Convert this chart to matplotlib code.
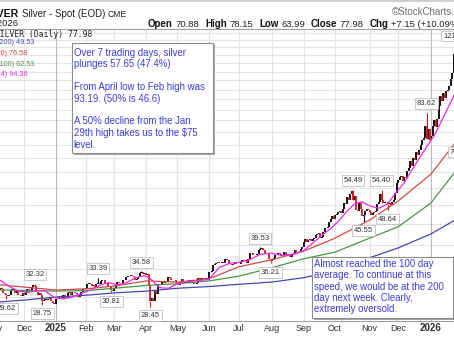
import numpy as np
import matplotlib.pyplot as plt
from matplotlib.patches import Rectangle

plt.rcParams['font.family'] = 'Liberation Sans'

# daily closes, one list per month (Nov 2024 .. Jan 2026)
nov24 = [32.4, 32.4, 32.5, 31.2, 31.6, 31.3, 30.6, 30.5, 30.3, 30.2, 30.3, 31.2, 31.3, 31.2, 30.7, 31.2, 30.4, 30.3, 30.1, 30.6]
dec24 = [30.4, 30.9, 31.3, 31.2, 31.0, 31.8, 32.1, 31.9, 30.9, 30.4, 30.6, 30.4, 29.3, 29.5, 29.6, 29.5, 29.6, 30.0, 29.4, 29.1, 28.9]
jan25 = [29.6, 29.7, 30.0, 30.1, 29.9, 30.3, 29.6, 29.8, 30.6, 30.9, 30.3, 30.8, 30.9, 30.6, 30.5, 30.0, 30.4, 30.9, 31.4, 31.3]
feb25 = [31.6, 32.2, 32.5, 32.2, 31.9, 32.0, 31.8, 32.2, 32.5, 32.2, 32.8, 33.0, 32.9, 32.4, 32.5, 31.8, 31.9, 31.2, 31.1]
mar25 = [31.6, 32.1, 32.6, 32.5, 32.4, 32.3, 33.0, 32.9, 33.6, 33.8, 33.7, 34.0, 33.7, 33.5, 33.0, 33.1, 33.6, 34.2, 34.4, 34.1, 34.2]
apr25 = [34.0, 34.1, 32.0, 29.4, 29.9, 29.3, 31.0, 30.5, 32.0, 32.3, 32.2, 32.7, 32.5, 32.6, 32.7, 33.6, 33.4, 33.0, 32.9, 33.0, 32.6]
may25 = [32.3, 32.0, 32.6, 33.1, 32.6, 32.5, 32.7, 32.5, 33.0, 32.6, 32.7, 32.3, 32.2, 32.5, 33.3, 33.0, 33.4, 33.2, 33.1, 33.3, 33.0]
jun25 = [34.5, 34.4, 34.6, 35.8, 36.0, 36.2, 36.5, 36.2, 36.3, 36.4, 36.3, 37.0, 36.9, 36.0, 36.1, 35.9, 36.0, 36.5, 36.0, 36.1]
jul25 = [36.1, 36.5, 36.8, 36.7, 36.6, 36.3, 37.1, 38.4, 38.3, 37.8, 37.9, 37.8, 38.2, 39.0, 39.2, 39.3, 38.9, 38.2, 38.1, 38.0, 37.1, 36.7]
aug25 = [37.0, 37.3, 37.8, 37.9, 38.3, 38.2, 37.7, 37.9, 38.5, 37.9, 38.0, 38.1, 37.4, 37.9, 38.1, 38.9, 38.6, 38.5, 38.6, 39.1, 39.7]
sep25 = [40.8, 41.3, 40.8, 41.2, 41.3, 41.0, 41.3, 41.6, 42.3, 42.6, 42.7, 41.7, 41.9, 43.1, 43.9, 44.0, 44.2, 45.4, 46.4, 47.0, 46.4]
oct25 = [47.2, 47.6, 48.0, 48.5, 47.9, 49.0, 50.6, 50.2, 52.3, 51.3, 53.1, 54.0, 51.4, 52.6, 48.6, 48.4, 50.6, 48.8, 47.0, 47.4, 48.5, 48.9, 48.7]
nov25 = [48.2, 47.3, 47.9, 48.2, 48.4, 50.4, 51.0, 53.3, 51.3, 50.6, 50.8, 50.9, 50.4, 50.6, 49.9, 51.0, 51.3, 53.4, 56.4]
dec25 = [57.5, 58.5, 58.8, 57.2, 58.4, 58.2, 60.5, 61.6, 64.0, 62.2, 64.8, 64.3, 67.0, 66.2, 68.0, 70.0, 71.8, 72.5, 77.5, 72.2, 76.3, 71.6]
jan26 = [73.5, 77.5, 80.0, 77.0, 80.5, 86.5, 91.5, 89.0, 93.0, 90.5, 94.0, 95.0, 97.0, 100.5, 104.0, 116.0, 114.0, 112.0, 115.0, 80.0]

months = [nov24, dec24, jan25, feb25, mar25, apr25, may25, jun25, jul25, aug25, sep25, oct25, nov25, dec25, jan26]
month_labels = ['Nov', 'Dec', '2025', 'Feb', 'Mar', 'Apr', 'May', 'Jun', 'Jul', 'Aug', 'Sep', 'Oct', 'Nov', 'Dec', '2026', 'Feb']

# labelled highs / lows (trading day index, price)
hi_days = [27, 69, 98, 177, 239, 258, 288, 307]
hi_vals = [32.32, 33.39, 34.58, 39.53, 54.49, 54.40, 83.62, 121.64]
lo_days = [8, 32, 78, 104, 184, 246, 262, 310]
lo_vals = [29.62, 28.75, 30.81, 28.45, 36.21, 45.55, 48.64, 70.60]

# moving averages
ma_days = [4, 20, 41, 61, 80, 101, 122, 143, 163, 185, 206, 227, 250, 269, 291, 307]
ma200 = [29.2, 29.5, 30.0, 30.3, 30.7, 31.0, 31.5, 31.8, 32.2, 32.6, 33.4, 34.7, 37.3, 39.4, 42.6, 46.0]
ma100 = [31.2, 31.1, 31.0, 31.1, 31.5, 32.0, 32.3, 32.8, 33.7, 35.3, 37.1, 38.5, 41.6, 44.3, 50.6, 60.1]
ma50 = [32.1, 31.7, 31.2, 31.4, 31.9, 32.8, 32.6, 33.2, 35.5, 36.9, 38.7, 41.6, 46.0, 51.1, 59.4, 70.6]
ma14_days = [0, 4, 10, 16, 22, 28, 34, 40, 46, 52, 58, 64, 70, 76, 82, 88, 94, 100, 104, 110, 116, 122, 130, 138,
             143, 150, 157, 163, 170, 177, 184, 192, 199, 206, 215, 225, 230, 235, 240, 245, 250, 256, 262, 268,
             273, 281, 288, 294, 300, 307]
ma14 = [33.3, 32.9, 31.8, 31.0, 30.8, 31.1, 31.0, 29.9, 29.7, 30.0, 30.6, 31.2, 32.0, 32.5, 32.1, 32.5, 33.4, 33.8,
        33.2, 31.6, 31.5, 32.3, 32.7, 32.9, 33.1, 35.4, 36.2, 36.4, 36.9, 38.0, 38.3, 37.8, 38.0, 38.8, 41.3, 44.2,
        46.0, 48.3, 50.3, 50.9, 49.8, 49.1, 50.3, 53.8, 56.5, 63.0, 69.0, 74.5, 82.5, 93.0]

legend_txt = ['MA(200) 49.53', 'MA(50) 76.58', 'MA(100) 62.53', 'MA(14) 94.36']
quote = [('Open', '70.88'), ('High', '78.15'), ('Low', '63.99'), ('Close', '77.98'), ('Chg', '+7.15 (+10.09%)')]

note1 = ['Over 7 trading days, silver', 'plunges 57.65 (47.4%)', '', 'From April low to Feb high was',
         '93.19. (50% is 46.6)', '', 'A 50% decline from the Jan', '29th high takes us to the $75', 'level.']
note2 = ['Almost reached the 100 day', 'average. To continue at this', 'speed, we would be at the 200',
         'day next week. Clearly,', 'extremely oversold.']

closes = np.concatenate(months)
days = np.arange(len(closes))
month_starts = np.cumsum([0] + [len(m) for m in months])

c_blue, c_red, c_green, c_pink = '#4646b4', '#d24a4a', '#4a9646', '#ea2aea'
c_note = '#3c3cdc'
c_up, c_dn = 'black', '#d01818'

W, H = 454, 341
fig = plt.figure(figsize=(W / 100, H / 100), dpi=100)
ax = fig.add_axes([0, 1 - 321 / H, 1, (321 - 29) / H])
ax.set_yscale('log')
ax.set_xlim(3.667, 306.333)
ax.set_ylim(26.26, 132.98)
ax.set_xticks([])
ax.set_yticks([])
ax.yaxis.set_minor_locator(plt.NullLocator())
for s in ['left', 'right']:
    ax.spines[s].set_visible(False)
for s in ['top', 'bottom']:
    ax.spines[s].set_color('#a0a0a0')
    ax.spines[s].set_linewidth(0.8)

# grid
for p in range(30, 135, 5):
    ax.axhline(p, color='#e4e4e4', lw=0.8, zorder=0)
for k, lab in zip(month_starts, month_labels):
    yr = lab.isdigit()
    ax.axvline(k, color='#bcbcbc' if yr else '#e4e4e4', lw=0.8, zorder=0)
    ax.text(k, -0.024, lab, transform=ax.get_xaxis_transform(), ha='center', va='center',
            fontsize=7 if yr else 6.5, color='#333333', fontweight='bold' if yr else 'normal', clip_on=False)

# candles (open taken as previous close)
prev = np.r_[closes[0], closes[:-1]]
up = closes >= prev
ax.vlines(days[up], prev[up], closes[up], color=c_up, lw=1.3, zorder=3)
ax.vlines(days[~up], prev[~up], closes[~up], color=c_dn, lw=1.3, zorder=3)
hd, ld = np.array(hi_days), np.array(lo_days)
ax.vlines(hd, closes[hd], hi_vals, color=np.where(up[hd], c_up, c_dn), lw=0.8, zorder=3)
ax.vlines(ld, closes[ld], lo_vals, color=np.where(up[ld], c_up, c_dn), lw=0.8, zorder=3)

# moving averages
ax.plot(ma_days, ma200, color=c_blue, lw=0.9, zorder=4)
ax.plot(ma_days, ma100, color=c_green, lw=0.9, zorder=4)
ax.plot(ma_days, ma50, color=c_red, lw=0.9, zorder=4)
ax.plot(ma14_days, ma14, color=c_pink, lw=0.9, zorder=4)

box = dict(boxstyle='square,pad=0.25', fc='white', ec='#b4b4b4', lw=0.5)
for d, v in zip(hi_days, hi_vals):
    ax.annotate(f'{v:.2f}', (d, v), xytext=(0, 6.5), textcoords='offset points', ha='center', va='center',
                fontsize=5.5, color='#333333', bbox=box, annotation_clip=False, zorder=6)
for d, v in zip(lo_days, lo_vals):
    ax.annotate(f'{v:.2f}', (d, v), xytext=(0, -6.5), textcoords='offset points', ha='center', va='center',
                fontsize=5.5, color='#333333', bbox=box, annotation_clip=False, zorder=6)

# overlay in pixel coordinates for header, legend and notes
ov = fig.add_axes([0, 0, 1, 1], zorder=10)
ov.set_xlim(0, W)
ov.set_ylim(H, 0)
ov.axis('off')
ov.patch.set_visible(False)
rend = fig.canvas.get_renderer()


def put(x, y, s, gap, **kw):
    t = ov.text(x, y, s, ha='left', va='baseline', **kw)
    return x + t.get_window_extent(rend).width + gap


ov.plot([0, W], [0.6, 0.6], color='#cfcfcf', lw=1.5)
ov.text(19.5, 16.7, '$SILVER', ha='right', va='baseline', fontsize=7.6, fontweight='bold', color='#111111')
x = put(21.7, 16.7, 'Silver - Spot (EOD)', 3, fontsize=7, color='#222222')
put(x, 16.7, 'CME', 0, fontsize=6.2, color='#222222')
ov.text(18.5, 26.5, '3-Feb-2026', ha='right', va='baseline', fontsize=6.8, color='#222222')
ov.text(392, 15, '\u00a9StockCharts.com', ha='left', va='baseline', fontsize=7, color='#707070')
x = 148
for lab, val in quote:
    x = put(x, 27, lab, 2.5, fontsize=7, fontweight='bold', color='#111111')
    x = put(x, 27, val, 6, fontsize=6.8, color='#222222')

ov.text(-10, 34.5, '$SILVER (Daily) 77.98', ha='left', va='center', fontsize=5.8,
        family='DejaVu Sans Mono', color='#222222')
for txt, col, x0, yc in zip(legend_txt, [c_blue, c_red, c_green, c_pink], [-14.5, -17, -14.5, -17],
                            [43, 53.5, 64, 74.5]):
    ov.text(x0, yc, txt, ha='left', va='center', fontsize=5.2, color=col)

# note boxes with drop shadow
for (bx, by, bw, bh), lines, tx, ty, step in [((72, 43, 141, 110), note1, 73.5, 52.5, 11.5),
                                               ((312, 257, 141, 61), note2, 314, 264, 11.25)]:
    ov.add_patch(Rectangle((bx + 2, by + 2), bw, bh, fc='#a8a8a8', ec='none', zorder=1))
    ov.add_patch(Rectangle((bx, by), bw, bh, fc='white', ec='#8c8c8c', lw=0.8, zorder=2))
    for j, line in enumerate(lines):
        ov.text(tx, ty + j * step, line, ha='left', va='center', fontsize=6.9, color=c_note, zorder=3)

fig.savefig('out.png', dpi=100)
